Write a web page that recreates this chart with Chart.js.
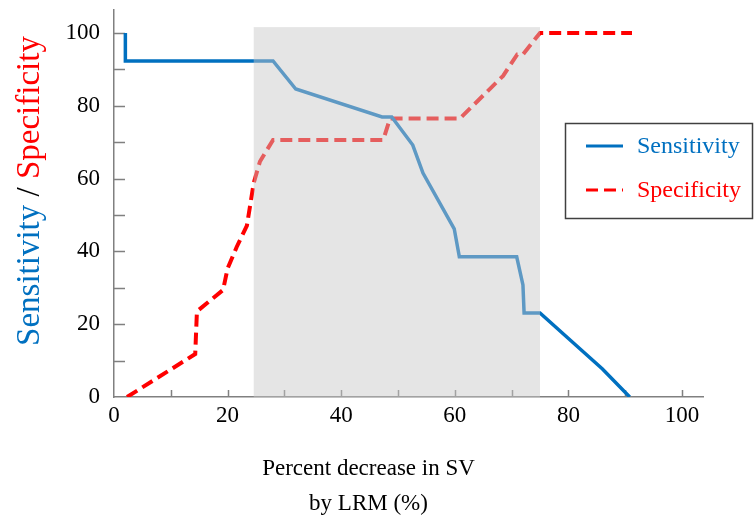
<!DOCTYPE html>
<html>
<head>
    <meta charset="UTF-8" />
    <title>Sensitivity / Specificity</title>
    <script src="https://cdn.jsdelivr.net/npm/chart.js@4.4.1/dist/chart.umd.min.js"></script>
    <style>
        html, body { margin: 0; padding: 0; background: #fff; }
        #wrap { width: 756px; height: 522px; }
    </style>
</head>
<body>
<div id="wrap"><canvas id="chart" width="756" height="522"></canvas></div>
<script>
    // data
    const sensX = [2, 2, 28, 32, 47.2, 48.9, 52.6, 54.4, 59.9, 60.8, 70.9, 72, 72.2, 75, 80.5, 86, 90.8];
    const sensY = [100, 92.3, 92.3, 84.6, 76.9, 76.9, 69.2, 61.5, 46.2, 38.5, 38.5, 30.8, 23.1, 23.1, 15.4, 7.7, 0];
    const specX = [2.3, 14.3, 14.6, 19.2, 20, 21.6, 23.4, 24, 24.6, 25.7, 28, 47.4, 48.6, 60.9, 68.5, 71, 72, 75, 91.2];
    const specY = [0, 11.8, 23.5, 29.4, 35.3, 41.2, 47.1, 52.9, 58.8, 64.7, 70.6, 70.6, 76.5, 76.5, 88.2, 94.1, 94.1, 100, 100];
    const seriesNames = ['Sensitivity', 'Specificity'];
    const xTitle = ['Percent decrease in SV', 'by LRM (%)'];
    const tickValues = [0, 10, 20, 30, 40, 50, 60, 70, 80, 90, 100];
    // shaded band (x from / to, top in y units)
    const shadeFrom = 24.6, shadeTo = 75, shadeTop = 101.6;

    const blue = '#0070c0';
    const red = '#ff0000';
    const serif = '"Liberation Serif", "Times New Roman", serif';

    function pts(xs, ys) {
        return xs.map((x, i) => ({ x: x, y: ys[i] }));
    }

    function label20(v) {
        return v % 20 === 0 ? String(v) : '';
    }

    function fixedTicks(scale) {
        scale.ticks = tickValues.map(v => ({ value: v }));
    }

    // inward tick marks on both axes
    const innerTicks = {
        id: 'innerTicks',
        beforeDatasetsDraw(chart) {
            const c = chart.ctx, a = chart.chartArea;
            const xs = chart.scales.x, ys = chart.scales.y;
            c.save();
            c.strokeStyle = '#808080';
            c.lineWidth = 1.5;
            c.beginPath();
            tickValues.slice(1).forEach(v => {
                const p = Math.round(ys.getPixelForValue(v)) + 0.5;
                c.moveTo(a.left, p);
                c.lineTo(a.left + 11, p);
                const q = Math.round(xs.getPixelForValue(v)) + 0.5;
                c.moveTo(q, a.bottom);
                c.lineTo(q, a.bottom - 7);
            });
            c.stroke();
            c.restore();
        }
    };

    // translucent grey band drawn over the lines
    const shade = {
        id: 'shade',
        afterDatasetsDraw(chart) {
            const c = chart.ctx;
            const xs = chart.scales.x, ys = chart.scales.y;
            const l = xs.getPixelForValue(shadeFrom), r = xs.getPixelForValue(shadeTo);
            const t = ys.getPixelForValue(shadeTop), b = ys.getPixelForValue(0);
            c.save();
            c.fillStyle = 'rgba(200,200,200,0.47)';
            c.fillRect(l, t, r - l, b - t + 1);
            c.restore();
        }
    };

    // titles and boxed legend
    const extras = {
        id: 'extras',
        afterDraw(chart) {
            const c = chart.ctx, a = chart.chartArea;
            c.save();
            // x title
            c.fillStyle = '#000';
            c.font = '23px ' + serif;
            c.textAlign = 'center';
            c.textBaseline = 'middle';
            const cx = (a.left + a.right) / 2 - 40;
            c.fillText(xTitle[0], cx, 469);
            c.fillText(xTitle[1], cx, 504);

            // y title, two colours
            c.save();
            c.translate(30, 191);
            c.rotate(-Math.PI / 2);
            c.font = '33px ' + serif;
            c.textBaseline = 'middle';
            const parts = [[seriesNames[0], blue], [' / ', '#000'], [seriesNames[1], red]];
            const total = parts.reduce((s, p) => s + c.measureText(p[0]).width, 0);
            let px = -total / 2;
            c.textAlign = 'left';
            parts.forEach(p => {
                c.fillStyle = p[1];
                c.fillText(p[0], px, 0);
                px += c.measureText(p[0]).width;
            });
            c.restore();

            // legend
            c.fillStyle = '#fff';
            c.fillRect(565, 123, 187, 95);
            c.strokeStyle = '#404040';
            c.lineWidth = 1.5;
            c.strokeRect(565.5, 123.5, 187, 95);
            c.font = '24px ' + serif;
            c.textAlign = 'left';
            c.textBaseline = 'middle';
            chart.data.datasets.forEach((ds, i) => {
                const y = 146 + i * 44;
                c.strokeStyle = ds.borderColor;
                c.lineWidth = 3;
                c.setLineDash(ds.borderDash || []);
                c.beginPath();
                c.moveTo(586, y);
                c.lineTo(623, y);
                c.stroke();
                c.setLineDash([]);
                c.fillStyle = ds.borderColor;
                c.fillText(ds.label, 637, y + 1);
            });
            c.restore();
        }
    };

    new Chart(document.getElementById('chart'), {
        type: 'line',
        data: {
            datasets: [
                {
                    label: seriesNames[0],
                    data: pts(sensX, sensY),
                    borderColor: blue,
                    borderWidth: 3.5,
                    pointRadius: 0,
                    tension: 0,
                    fill: false
                },
                {
                    label: seriesNames[1],
                    data: pts(specX, specY),
                    borderColor: red,
                    borderWidth: 4,
                    borderDash: [12, 6],
                    pointRadius: 0,
                    tension: 0,
                    fill: false
                }
            ]
        },
        options: {
            responsive: false,
            animation: false,
            devicePixelRatio: 1,
            layout: { padding: { top: 10, right: 53, left: 0, bottom: 0 } },
            plugins: {
                legend: { display: false },
                tooltip: { enabled: false }
            },
            scales: {
                x: {
                    type: 'linear',
                    min: 0,
                    max: 103.7,
                    grid: { display: false },
                    border: { display: true, color: '#808080', width: 1.5 },
                    afterBuildTicks: fixedTicks,
                    ticks: {
                        color: '#000',
                        font: { family: serif, size: 23 },
                        padding: -3,
                        maxRotation: 0,
                        autoSkip: false,
                        callback: label20
                    },
                    afterFit: s => {
                        s.height = 125;
                        s.paddingLeft = 0; s.paddingRight = 0;
                    }
                },
                y: {
                    min: 0,
                    max: 106.3,
                    grid: { display: false },
                    border: { display: true, color: '#808080', width: 1.5 },
                    afterBuildTicks: fixedTicks,
                    ticks: {
                        color: '#000',
                        font: { family: serif, size: 23 },
                        padding: 6,
                        autoSkip: false,
                        callback: label20
                    },
                    afterFit: s => {
                        s.width = 114;
                        s.paddingTop = 0; s.paddingBottom = 0;
                    }
                }
            }
        },
        plugins: [innerTicks, shade, extras]
    });
</script>
</body>
</html>
